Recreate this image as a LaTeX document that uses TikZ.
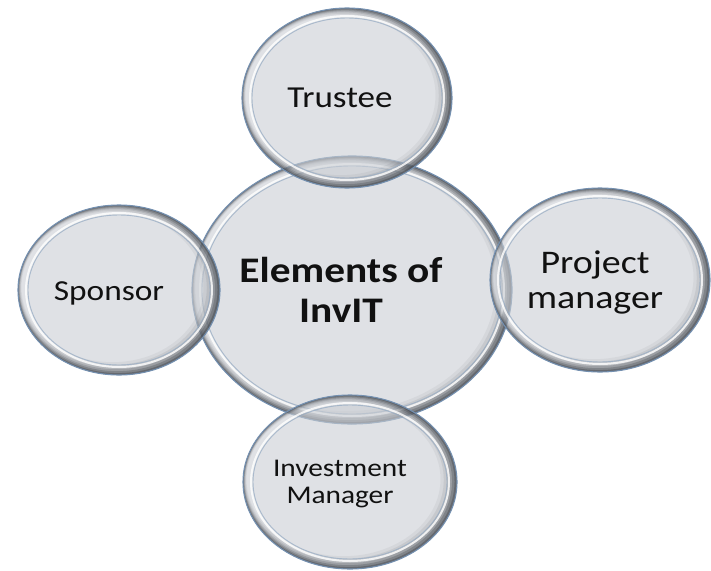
\documentclass[tikz,border=0pt]{standalone}
\usepackage{fontspec}
\setmainfont[FakeStretch=1.15]{Carlito}
\usetikzlibrary{calc}

\definecolor{discfill}{HTML}{CACED4}
\definecolor{rimblue}{HTML}{7490B0}
\definecolor{rimdark}{HTML}{22272E}
\definecolor{inkcol}{HTML}{111111}

% A glassy disc: translucent fill, dark crescent towards the right,
% a pale inner ring and a thin blue outline.
% #1,#2 = centre (px), #3,#4 = x and y radius (px)
\newcommand\glassdisc[4]{%
  \fill[discfill, fill opacity=0.6] (#1,#2) ellipse [x radius=#3pt, y radius=#4pt];
  \begin{scope}
    \clip (#1,#2) ellipse [x radius=#3pt, y radius=#4pt];
    \foreach \k/\op in {1.5/0.28,3/0.22,4.5/0.16,6/0.11,8/0.08,10/0.05}{
      \fill[rimdark, fill opacity=\op, even odd rule]
        (#1,#2) ellipse [x radius=#3pt, y radius=#4pt]
        ($(#1,#2)+(-0.65*\k,-0.28*\k)$) ellipse [x radius={(#3-\k)*1pt}, y radius={(#4-\k)*1pt}];
    }
  \end{scope}
  \draw[white, line width=2pt, opacity=0.8] (#1,#2) ellipse [x radius={(#3-8)*1pt}, y radius={(#4-8)*1pt}];
  \draw[rimblue!75, line width=0.9pt, opacity=0.75] (#1,#2) ellipse [x radius={(#3-10)*1pt}, y radius={(#4-10)*1pt}];
  \draw[rimblue, line width=1.1pt] (#1,#2) ellipse [x radius=#3pt, y radius=#4pt];
}

\tikzset{
  label/.style={text=inkcol, inner sep=0pt, align=center},
}

\begin{document}
\begin{tikzpicture}[x=1pt, y=-1pt]
  \useasboundingbox (0,0) rectangle (711,570);
  \fill[white] (0,0) rectangle (711,570);

  % discs
  \glassdisc{352}{290}{160}{134}
  \glassdisc{347}{98}{105}{90}
  \glassdisc{119}{290}{101}{85}
  \glassdisc{600}{280}{110}{92}
  \glassdisc{350}{482}{107}{87}

  % texts
  \node[label, font={\bfseries\fontsize{36}{40}\selectfont}] (core) at (341,290) {Elements of\\InvIT};
  \node[label, font={\fontsize{30.5}{34}\selectfont}, anchor=base] (trustee) at (340,107) {Trustee};
  \node[label, font={\fontsize{29}{33}\selectfont}, anchor=base] (sponsor) at (109,300) {Sponsor};
  \node[label, font={\fontsize{33}{35}\selectfont}] (pm) at (595,282) {Project\\manager};
  \node[label, font={\fontsize{25.5}{27}\selectfont}] (im) at (340,484) {Investment\\Manager};
\end{tikzpicture}
\end{document}
